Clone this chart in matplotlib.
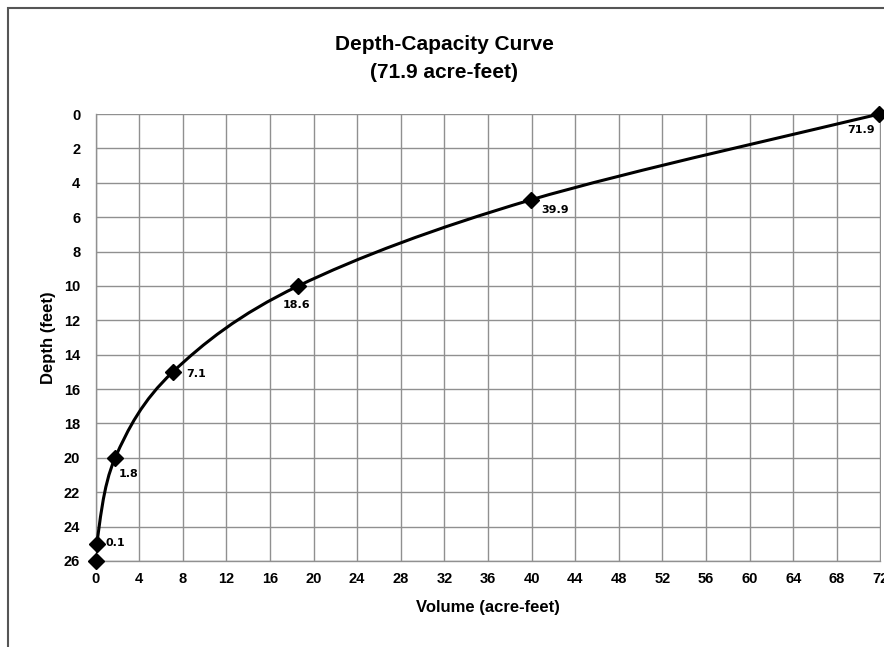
import matplotlib
matplotlib.use("Agg")
import matplotlib.pyplot as plt
from matplotlib.path import Path
from matplotlib.patches import PathPatch, Rectangle
import numpy as np

depth = [0, 5, 10, 15, 20, 25, 26]
volume = [71.9, 39.9, 18.6, 7.1, 1.8, 0.1, 0.0]
labels = ["71.9", "39.9", "18.6", "7.1", "1.8", "0.1", ""]
label_offsets = [(-18, 16), (25, 10), (-2, 19), (23, 2), (13, 16), (19, -1), (0, 0)]
x_ticks = list(range(0, 73, 4))
y_ticks = list(range(0, 27, 2))

plt.rcParams['font.family'] = ['Liberation Sans', 'DejaVu Sans']

fig = plt.figure(figsize=(8.84, 6.47), dpi=100)
fig.patches.append(Rectangle((8/884, -0.1), 1.2, 1 - 8/647 + 0.1, transform=fig.transFigure,
                             fill=False, edgecolor='#555555', linewidth=1.5, zorder=0))
ax = fig.add_axes([95.5/884, 1 - 561/647, 785/884, 447/647])

# smoothed curve (Catmull-Rom style bezier through points)
pts = np.column_stack([volume, depth])
verts = [tuple(pts[0])]
codes = [Path.MOVETO]
n = len(pts)
t = 1/6
for i in range(n - 1):
    p0 = pts[i - 1] if i > 0 else pts[i]
    p1 = pts[i]
    p2 = pts[i + 1]
    p3 = pts[i + 2] if i + 2 < n else pts[i + 1]
    c1 = p1 + (p2 - p0) * t
    c2 = p2 - (p3 - p1) * t
    verts += [tuple(c1), tuple(c2), tuple(p2)]
    codes += [Path.CURVE4] * 3
ax.add_patch(PathPatch(Path(verts, codes), fill=False, edgecolor='black', linewidth=2.2, zorder=3))
ax.plot(volume, depth, linestyle='none', marker='D', markersize=8, color='black', zorder=4, clip_on=False)

for v, d, lab, off in zip(volume, depth, labels, label_offsets):
    if lab:
        ax.annotate(lab, (v, d), xytext=(off[0], -off[1]), textcoords='offset pixels',
                    ha='center', va='center', fontsize=8, fontweight='bold', family='DejaVu Sans')

ax.set_xlim(0, 72)
ax.set_ylim(26, 0)
ax.set_xticks(x_ticks)
ax.set_yticks(y_ticks)
ax.grid(True, color='#909090', linewidth=1.0)
ax.set_axisbelow(True)
for s in ['top', 'right']:
    ax.spines[s].set_visible(False)
for s in ['left', 'bottom']:
    ax.spines[s].set_color('#909090')
    ax.spines[s].set_linewidth(1.0)
ax.tick_params(axis='x', length=0, labelsize=10.5, pad=8)
ax.tick_params(axis='y', length=0, labelsize=10.5, pad=11)
for lab in ax.get_xticklabels() + ax.get_yticklabels():
    lab.set_fontweight('bold')
ax.set_xlabel("Volume (acre-feet)", fontsize=12, fontweight='bold', labelpad=10)
ax.set_ylabel("Depth (feet)", fontsize=12, fontweight='bold', labelpad=6)
fig.text(444/884, 1 - 59/647, "Depth-Capacity Curve\n(71.9 acre-feet)", ha='center', va='center',
         fontsize=15, fontweight='bold', linespacing=1.6)

fig.savefig("out.png", dpi=100)
